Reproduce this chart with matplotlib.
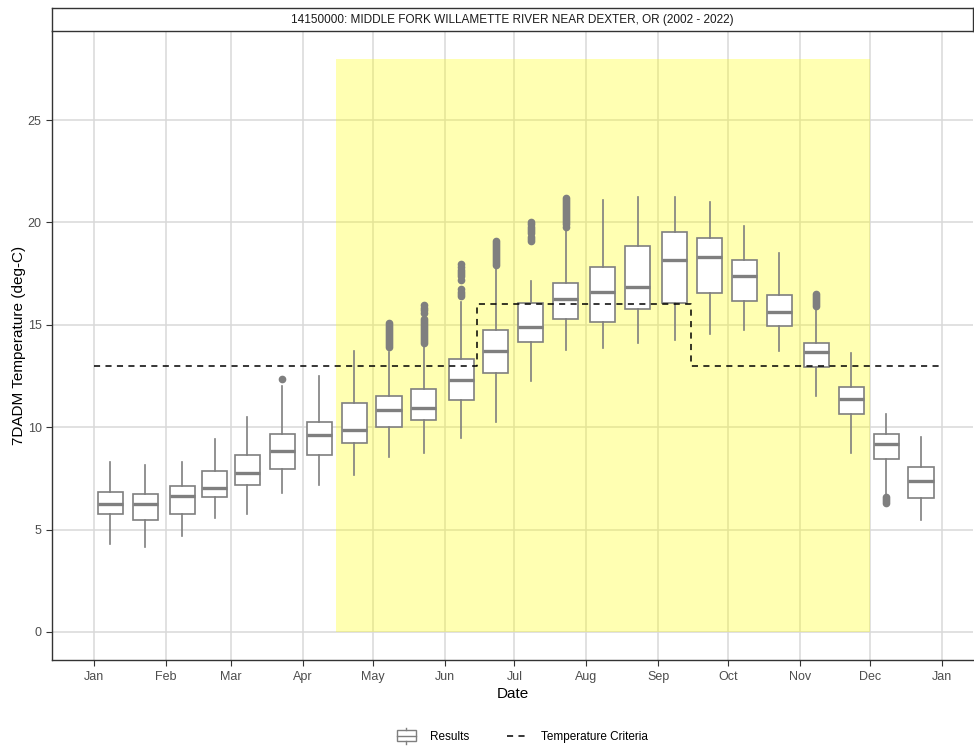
from datetime import datetime
import matplotlib
matplotlib.use("Agg")
import matplotlib.pyplot as plt
import matplotlib.dates as mdates
from matplotlib.lines import Line2D
from matplotlib.patches import Rectangle
from matplotlib.legend_handler import HandlerBase


YEAR = 2021
TITLE = "14150000: MIDDLE FORK WILLAMETTE RIVER NEAR DEXTER, OR (2002 - 2022)"

# semi-monthly boxes
BOX_DATES = ["01-08", "01-23", "02-08", "02-22", "03-08", "03-23", "04-08", "04-23",
             "05-08", "05-23", "06-08", "06-23", "07-08", "07-23", "08-08", "08-23",
             "09-08", "09-23", "10-08", "10-23", "11-08", "11-23", "12-08", "12-23"]
WHISK_LO = [4.28, 4.17, 4.67, 5.58, 5.76, 6.77, 7.16, 7.67, 8.56, 8.76, 9.46, 10.27,
            12.27, 13.77, 13.85, 14.10, 14.26, 14.55, 14.75, 13.74, 11.54, 8.76, 6.69, 5.47]
Q1 = [5.75, 5.45, 5.75, 6.57, 7.16, 7.96, 8.66, 9.21, 10.03, 10.35, 11.33, 12.66,
      14.15, 15.27, 15.15, 15.77, 16.08, 16.54, 16.15, 14.96, 12.95, 10.63, 8.45, 6.54]
MEDIAN = [6.27, 6.27, 6.66, 7.05, 7.75, 8.85, 9.62, 9.86, 10.86, 10.95, 12.30, 13.74,
          14.88, 16.26, 16.59, 16.86, 18.16, 18.29, 17.40, 15.64, 13.66, 11.38, 9.16, 7.39]
Q3 = [6.85, 6.75, 7.11, 7.84, 8.64, 9.65, 10.24, 11.18, 11.54, 11.85, 13.33, 14.75,
      16.05, 17.06, 17.84, 18.85, 19.55, 19.25, 18.15, 16.46, 14.13, 11.95, 9.65, 8.04]
WHISK_HI = [8.32, 8.14, 8.32, 9.42, 10.51, 12.01, 12.52, 13.72, 13.69, 14.00, 16.13, 17.81,
            17.14, 19.71, 21.12, 21.22, 21.22, 21.01, 19.82, 18.52, 15.80, 13.64, 10.63, 9.54]
OUTLIERS = [[], [], [], [], [], [12.35], [], [],
            [13.9, 14.0, 14.1, 14.2, 14.3, 14.4, 14.5, 14.6, 14.7, 14.8, 14.9, 15.0, 15.1],
            [14.1, 14.2, 14.3, 14.4, 14.5, 14.6, 14.7, 14.8, 14.9, 15.0, 15.1, 15.2, 15.3,
             15.6, 15.7, 15.8, 15.95],
            [16.4, 16.5, 16.6, 16.75, 17.2, 17.4, 17.5, 17.6, 17.7, 17.8, 17.95],
            [17.9, 18.0, 18.1, 18.2, 18.3, 18.4, 18.5, 18.6, 18.7, 18.8, 18.9, 19.0, 19.1],
            [19.1, 19.2, 19.3, 19.5, 19.6, 19.7, 19.8, 19.9, 20.0],
            [19.8, 19.9, 20.0, 20.1, 20.2, 20.3, 20.4, 20.5, 20.6, 20.7, 20.8, 20.9, 21.0, 21.1, 21.2],
            [], [], [], [], [], [],
            [15.9, 16.0, 16.1, 16.2, 16.3, 16.4, 16.5],
            [], [6.3, 6.4, 6.5, 6.6], []]

# temperature criteria (step line)
CRIT_DATES = ["01-01", "06-15", "09-15", "12-31"]
CRIT_VALUES = [13, 16, 13, 13]

# spawning season shading
SEASON_START = "04-15"
SEASON_END = "12-01"
SEASON_TOP = 28

MONTH_LABELS = ["Jan", "Feb", "Mar", "Apr", "May", "Jun", "Jul",
                "Aug", "Sep", "Oct", "Nov", "Dec", "Jan"]

BOX_COLOR = "#7f7f7f"
GRID_COLOR = "#d9d9d9"
TEXT_COLOR = "#4d4d4d"

plt.rcParams["font.family"] = ["Liberation Sans", "DejaVu Sans"]


def to_num(md, year=YEAR):
    return mdates.date2num(datetime.strptime("%d-%s" % (year, md), "%Y-%m-%d"))


class BoxHandler(HandlerBase):
    # small boxplot glyph for the legend
    def create_artists(self, legend, orig_handle, xdescent, ydescent, width, height, fontsize, trans):
        cx = width / 2 - xdescent
        w = width * 0.9
        h = height * 1.3
        y0 = (height - h) / 2 - ydescent
        rect = Rectangle((cx - w / 2, y0), w, h, facecolor="white",
                         edgecolor=BOX_COLOR, linewidth=1.0, transform=trans)
        med = Line2D([cx - w / 2, cx + w / 2], [y0 + h / 2] * 2, color=BOX_COLOR, lw=1.0, transform=trans)
        top = Line2D([cx, cx], [y0 + h, y0 + h + height * 0.3], color=BOX_COLOR, lw=1.0, transform=trans)
        bot = Line2D([cx, cx], [y0, y0 - height * 0.3], color=BOX_COLOR, lw=1.0, transform=trans)
        return [rect, med, top, bot]


fig = plt.figure(figsize=(9.74, 7.5), dpi=100)
ax = fig.add_axes([52 / 974, 90 / 750, 921 / 974, 629 / 750])

positions = [to_num(d) for d in BOX_DATES]
stats = []
for i in range(len(BOX_DATES)):
    stats.append({"whislo": WHISK_LO[i], "q1": Q1[i], "med": MEDIAN[i], "q3": Q3[i],
                  "whishi": WHISK_HI[i], "fliers": OUTLIERS[i]})

ax.bxp(stats, positions=positions, widths=10.8, showcaps=False, patch_artist=True,
       boxprops=dict(facecolor="white", edgecolor=BOX_COLOR, linewidth=1.2),
       medianprops=dict(color=BOX_COLOR, linewidth=2.4, solid_capstyle="butt"),
       whiskerprops=dict(color=BOX_COLOR, linewidth=1.2),
       flierprops=dict(marker="o", markerfacecolor=BOX_COLOR, markeredgecolor=BOX_COLOR,
                       markersize=4.5, linestyle="none"),
       zorder=3)

ax.fill_between([to_num(SEASON_START), to_num(SEASON_END)], 0, SEASON_TOP,
                color="yellow", alpha=0.3, linewidth=0, zorder=2)

crit_x = [to_num(d) for d in CRIT_DATES]
ax.plot(crit_x, CRIT_VALUES, drawstyle="steps-post", color="black",
        linestyle=(0, (4, 3.5)), linewidth=1.1, zorder=4)

month_ticks = [to_num("%02d-01" % m) for m in range(1, 13)] + [to_num("01-01", YEAR + 1)]
ax.set_xticks(month_ticks)
ax.set_xticklabels(MONTH_LABELS)
ax.set_xlim(to_num("01-01") - 18.1, to_num("01-01") + 378.4)
ax.set_ylim(-1.37, 29.35)
ax.set_yticks([0, 5, 10, 15, 20, 25])

ax.grid(True, color=GRID_COLOR, linewidth=1.1, zorder=0)
ax.set_axisbelow(True)
ax.tick_params(axis="both", colors="#333333", labelcolor=TEXT_COLOR, labelsize=9, length=4, width=0.8)
ax.tick_params(axis="x", pad=4)
for side in ["top", "right"]:
    ax.spines[side].set_visible(False)
for side in ["left", "bottom"]:
    ax.spines[side].set_color("#333333")
    ax.spines[side].set_linewidth(1.0)

ax.set_xlabel("Date", fontsize=11, color="black", labelpad=3)
ax.set_ylabel("7DADM Temperature (deg-C)", fontsize=11, color="black", labelpad=1)

# facet strip
strip = fig.add_axes([52 / 974, 719 / 750, 921 / 974, 23 / 750])
strip.set_xticks([])
strip.set_yticks([])
for side in strip.spines.values():
    side.set_color("#333333")
    side.set_linewidth(1.0)
strip.text(0.5, 0.5, TITLE, ha="center", va="center", fontsize=8.5, color="#1a1a1a",
           transform=strip.transAxes)

handles = [Rectangle((0, 0), 1, 1),
           Line2D([0], [0], color="black", linestyle=(0, (4, 3.5)), linewidth=1.1)]
fig.legend(handles, ["Results", "Temperature Criteria"], loc="center",
           bbox_to_anchor=(522 / 974, 1 - 737 / 750), ncol=2, frameon=False,
           fontsize=8.5, handlelength=1.8, columnspacing=3.2, handletextpad=1.1,
           handler_map={Rectangle: BoxHandler()})

fig.savefig("out.png", dpi=100)
